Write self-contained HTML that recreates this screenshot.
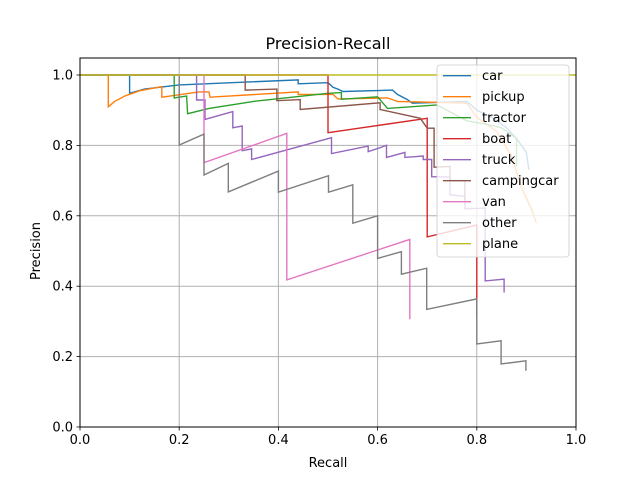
<!DOCTYPE html>
<html><head><meta charset="utf-8"><style>
html,body{margin:0;padding:0;background:#fff;}
svg{display:block;font-family:"DejaVu Sans","Liberation Sans",sans-serif;}
</style></head><body>
<svg id="chart" width="640" height="480" viewBox="0 0 640 480" xmlns="http://www.w3.org/2000/svg">
<rect width="640" height="480" fill="#fff"/>
<text x="328" y="49" font-size="16" text-anchor="middle">Precision-Recall</text>
<text x="328" y="467" font-size="13" text-anchor="middle">Recall</text>
<text x="0" y="0" font-size="13" text-anchor="middle" transform="translate(40,251) rotate(-90)">Precision</text>
<g id="grid"></g><g id="series"></g>
<rect x="80" y="58" width="496" height="369" fill="none" stroke="#000" stroke-width="1"/>
<g id="ticks"></g><g id="legend"></g>
</svg>
<script>
const seriesNames=["car","pickup","tractor","boat","truck","campingcar","van","other","plane"];
const colors=["#1f77b4","#ff7f0e","#2ca02c","#d62728","#9467bd","#8c564b","#e377c2","#7f7f7f","#bcbd22"];
const xTicks=[0,0.2,0.4,0.6,0.8,1.0];
const yTicks=[0,0.2,0.4,0.6,0.8,1.0];
const carR=[0,0.1,0.1,0.13,0.2,0.44,0.44,0.5,0.51,0.52,0.53,0.63,0.64,0.66,0.67,0.78,0.8,0.83,0.86,0.88,0.9,0.905];
const carP=[1,1,0.948,0.96,0.972,0.986,0.975,0.978,0.965,0.96,0.953,0.957,0.945,0.93,0.92,0.925,0.9,0.88,0.85,0.82,0.78,0.73];
const pickupR=[0,0.057,0.057,0.07,0.09,0.12,0.165,0.165,0.24,0.26,0.262,0.44,0.44,0.51,0.52,0.62,0.64,0.78,0.8,0.84,0.87,0.89,0.91,0.92];
const pickupP=[1,1,0.91,0.925,0.94,0.955,0.967,0.937,0.952,0.952,0.937,0.952,0.945,0.945,0.932,0.935,0.925,0.92,0.88,0.84,0.77,0.68,0.62,0.58];
const tractorR=[0,0.19,0.19,0.215,0.217,0.26,0.35,0.5,0.527,0.527,0.6,0.62,0.72,0.74,0.78,0.82,0.85,0.88,0.88];
const tractorP=[1,1,0.935,0.94,0.89,0.905,0.925,0.948,0.95,0.931,0.938,0.905,0.915,0.9,0.87,0.86,0.85,0.82,0.74];
const boatR=[0,0.5,0.5,0.7,0.7,0.8,0.8];
const boatP=[1,1,0.836,0.877,0.54,0.574,0.31];
const truckR=[0,0.235,0.235,0.252,0.252,0.308,0.308,0.327,0.327,0.346,0.346,0.507,0.507,0.581,0.581,0.618,0.618,0.655,0.655,0.692,0.692,0.709,0.709,0.746,0.746,0.776,0.776,0.817,0.817,0.855,0.855];
const truckP=[1,1,0.929,0.929,0.874,0.896,0.85,0.855,0.785,0.79,0.76,0.822,0.777,0.798,0.782,0.8,0.766,0.78,0.766,0.77,0.76,0.76,0.711,0.71,0.66,0.655,0.62,0.622,0.415,0.42,0.382];
const campingR=[0,0.333,0.333,0.397,0.397,0.444,0.444,0.605,0.605,0.686,0.7,0.714,0.714,0.746,0.746,0.776,0.776];
const campingP=[1,1,0.957,0.96,0.927,0.93,0.902,0.921,0.902,0.877,0.849,0.849,0.738,0.74,0.7,0.7,0.645];
const vanR=[0,0.25,0.25,0.417,0.417,0.665,0.665];
const vanP=[1,1,0.751,0.834,0.418,0.533,0.306];
const otherR=[0,0.2,0.2,0.25,0.25,0.299,0.299,0.4,0.4,0.501,0.501,0.55,0.55,0.6,0.6,0.648,0.648,0.699,0.699,0.8,0.8,0.849,0.849,0.899,0.899];
const otherP=[1,1,0.801,0.832,0.716,0.749,0.668,0.727,0.667,0.714,0.667,0.688,0.579,0.6,0.479,0.498,0.434,0.451,0.334,0.364,0.236,0.245,0.179,0.188,0.16];
const planeR=[0,1];
const planeP=[1,1];
const allR=[carR,pickupR,tractorR,boatR,truckR,campingR,vanR,otherR,planeR];
const allP=[carP,pickupP,tractorP,boatP,truckP,campingP,vanP,otherP,planeP];
const NS="http://www.w3.org/2000/svg";
const X=v=>80+v*496, Y=v=>427-v*352;
function mk(t,a,p){const e=document.createElementNS(NS,t);for(const k in a)e.setAttribute(k,a[k]);p.appendChild(e);return e;}
const grid=document.getElementById('grid'),ticks=document.getElementById('ticks');
xTicks.forEach(v=>{
  const g=mk('line',{x1:X(v),x2:X(v),y1:58,y2:427,stroke:'#b0b0b0','stroke-width':1},grid);
  
  
  const tk=mk('line',{x1:X(v),x2:X(v),y1:427,y2:430.5,stroke:'#000','stroke-width':0.8},ticks);
  
  
  const t=mk('text',{x:X(v),y:444,'font-size':13,'text-anchor':'middle'},ticks);
  t.textContent=v.toFixed(1);
  
  
});
yTicks.forEach(v=>{
  const g=mk('line',{x1:80,x2:576,y1:Y(v),y2:Y(v),stroke:'#b0b0b0','stroke-width':1},grid);
  
  
  const tk=mk('line',{x1:76.5,x2:80,y1:Y(v),y2:Y(v),stroke:'#000','stroke-width':0.8},ticks);
  
  
  const t=mk('text',{x:73,y:Y(v)+4.5,'font-size':13,'text-anchor':'end'},ticks);
  t.textContent=v.toFixed(1);
  
  
});
const sg=document.getElementById('series');
allR.forEach((rs,i)=>{
  const pts=rs.map((r,j)=>X(r).toFixed(1)+','+Y(allP[i][j]).toFixed(1)).join(' ');
  const pl=mk('polyline',{points:pts,fill:'none',stroke:colors[i],'stroke-width':1.4},sg);
  
  
});
const lg=document.getElementById('legend');
const box=mk('rect',{x:437,y:65,width:132,height:192,rx:3,fill:'#fff','fill-opacity':0.8,stroke:'#ccc','stroke-width':0.8},lg);


seriesNames.forEach((n,i)=>{
  const y=75.7+i*21;
  const g=mk('g',{},lg);
  
  
  mk('line',{x1:443,x2:471,y1:y,y2:y,stroke:colors[i],'stroke-width':1.4},g);
  const t=mk('text',{x:482,y:y+4.5,'font-size':13},g);
  t.textContent=n;
});
</script>
</body></html>
